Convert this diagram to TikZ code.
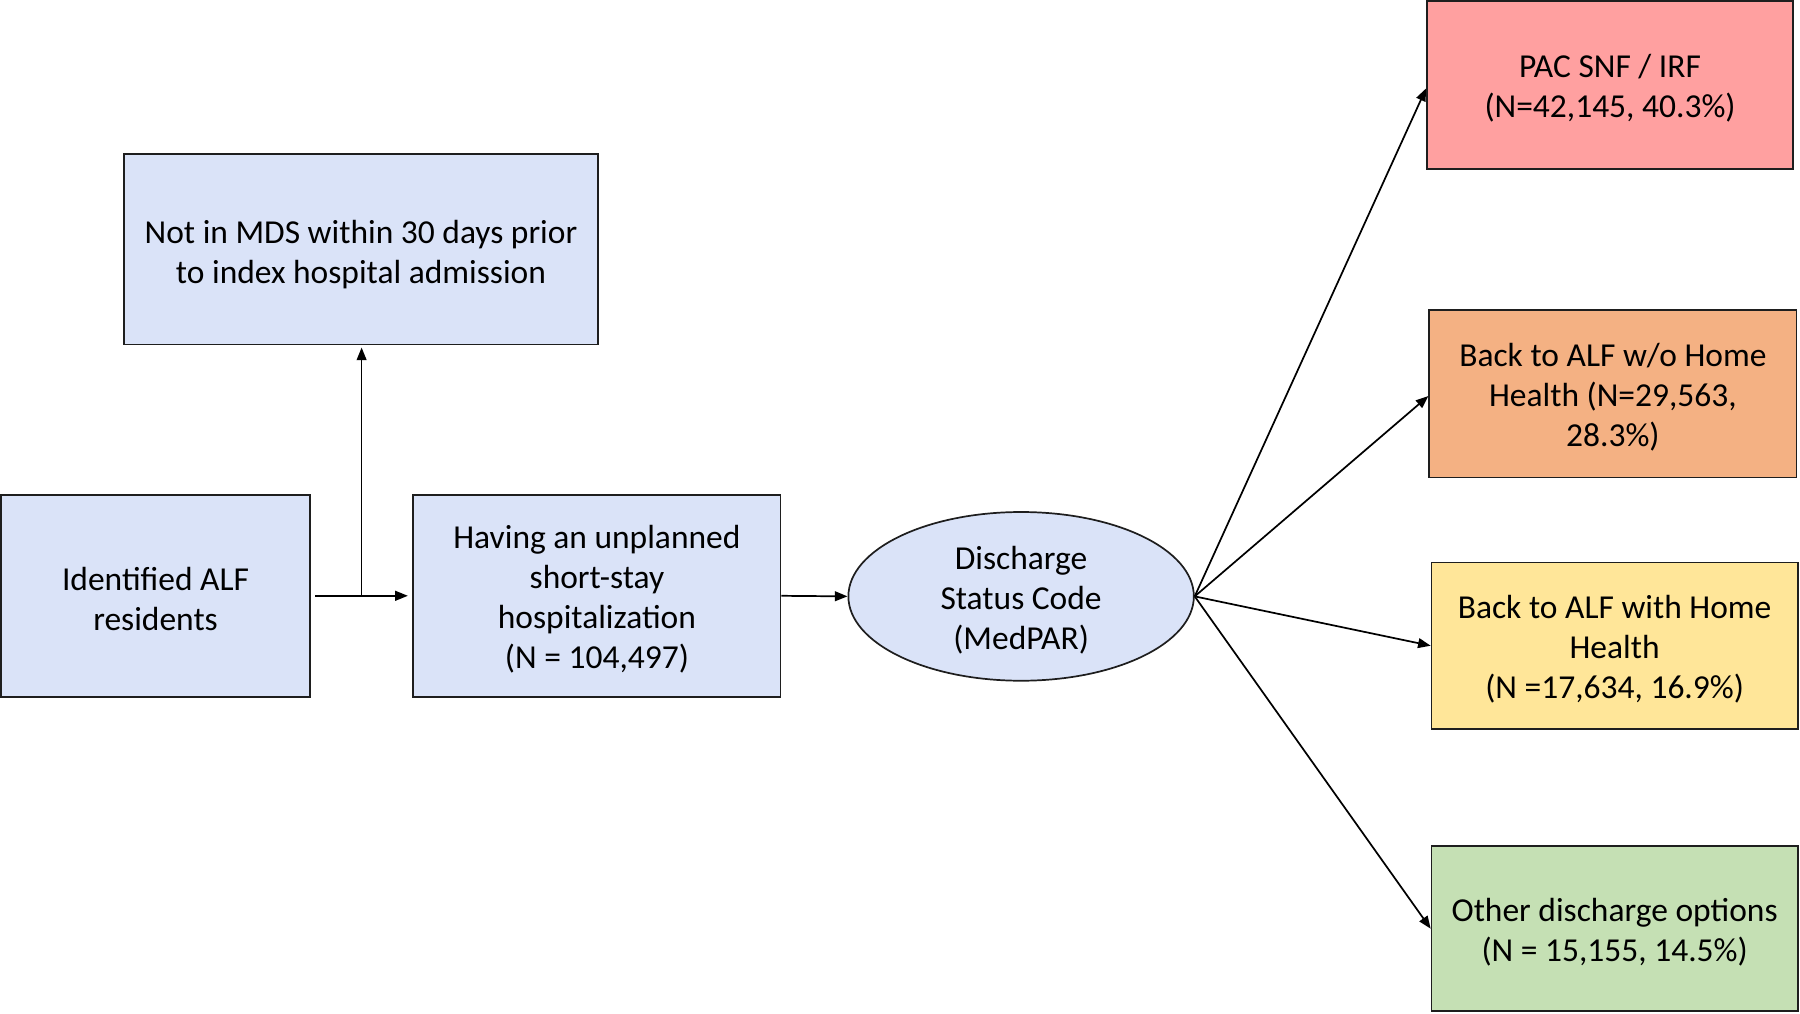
\documentclass[tikz,border=0pt]{standalone}
\usepackage{fontspec}
\setmainfont{Carlito}
\usetikzlibrary{arrows.meta,shapes.geometric}
\definecolor{bluefill}{RGB}{218,227,248}
\definecolor{pinkfill}{RGB}{255,160,160}
\definecolor{orangefill}{RGB}{244,177,131}
\definecolor{yellowfill}{RGB}{255,230,153}
\definecolor{greenfill}{RGB}{197,224,180}
\definecolor{edge}{RGB}{30,30,30}
\newcommand{\tp}{\rule{0pt}{15pt}}
\begin{document}
\begin{tikzpicture}[x=0.02cm,y=-0.02cm,
  every node/.style={font=\fontsize{16.6}{19.9}\selectfont, align=center, text=black},
  box/.style={draw=edge, line width=0.85pt, rectangle, inner sep=0pt},
  oval/.style={draw=edge, line width=0.85pt, ellipse, inner sep=0pt, fill=bluefill},
  conn/.style={draw=black, line width=0.85pt, -{Triangle[length=0.22cm,width=0.17cm]}}]
\useasboundingbox (0,0) rectangle (1568,883);
\node[box, fill=bluefill, minimum width=8.26cm, minimum height=3.32cm] (mds) at (314.5,217) {\rule{0pt}{17pt}Not in MDS within 30 days prior\\to index hospital admission};
\node[box, fill=bluefill, minimum width=5.38cm, minimum height=3.52cm] (alf) at (135.5,519) {\tp Identified ALF\\residents};
\node[box, fill=bluefill, minimum width=6.40cm, minimum height=3.52cm] (hosp) at (520,519) {\tp Having an unplanned\\short-stay\\hospitalization\\(N = 104,497)};
\node[oval, minimum width=6.02cm, minimum height=2.94cm] (dsc) at (889.5,519.5) {\tp Discharge\\Status Code\\(MedPAR)};
\node[box, fill=pinkfill, minimum width=6.38cm, minimum height=2.92cm] (pac) at (1402.5,74) {\tp PAC SNF / IRF\\(N=42,145, 40.3\%)};
\node[box, fill=orangefill, minimum width=6.40cm, minimum height=2.92cm] (wo) at (1405,343) {\tp Back to ALF w/o Home\\Health (N=29,563,\\28.3\%)};
\node[box, fill=yellowfill, minimum width=6.38cm, minimum height=2.90cm] (with) at (1406.5,562.5) {\tp Back to ALF with Home\\Health\\(N =17,634, 16.9\%)};
\node[box, fill=greenfill, minimum width=6.38cm, minimum height=2.88cm] (other) at (1406.5,809) {\tp Other discharge options\\(N = 15,155, 14.5\%)};
\coordinate (br) at (315,519);
\draw[conn, shorten <=0.08cm, shorten >=0.08cm] (alf.east) -- (hosp.west);
\draw[conn, shorten >=0.04cm] (br) -- (br |- mds.south);
\draw[conn] (hosp.east) -- (dsc.west);
\draw[conn] (dsc.east) -- ([yshift=-0.06cm]pac.west);
\draw[conn] (dsc.east) -- ([yshift=-0.04cm]wo.west);
\draw[conn] (dsc.east) -- (with.west);
\draw[conn] (dsc.east) -- (other.west);
\end{tikzpicture}
\end{document}
